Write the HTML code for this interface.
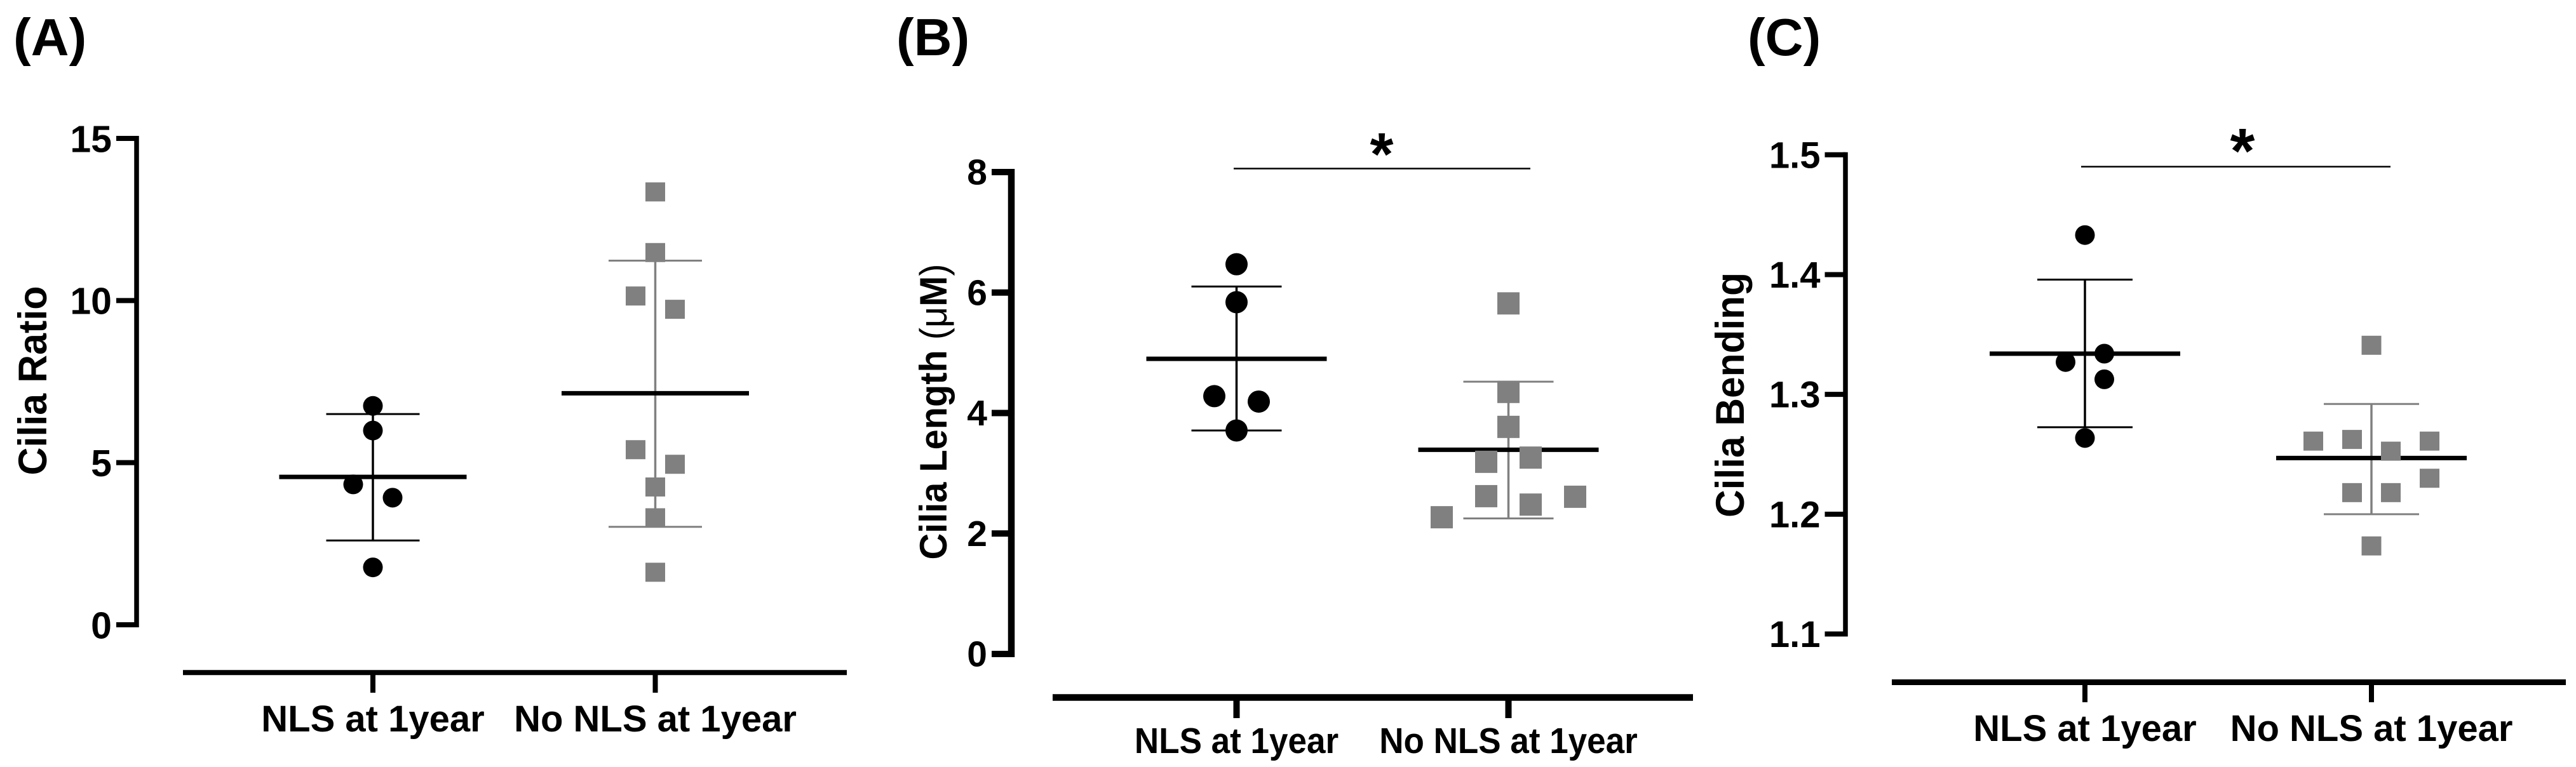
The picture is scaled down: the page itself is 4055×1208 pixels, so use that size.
<!DOCTYPE html>
<html lang="en">
<head>
<meta charset="utf-8">
<title>Cilia measurements by NLS status</title>
<style>
  html, body { margin: 0; padding: 0; background: #fff; }
  svg { display: block; }
  text { font-family: "Liberation Sans", sans-serif; font-weight: bold; fill: #000; }
</style>
</head>
<body>
<svg id="figure" xmlns="http://www.w3.org/2000/svg" width="4055" height="1208" viewBox="0 0 4055 1208">
  <rect x="0" y="0" width="4055" height="1208" fill="#fff"/>

  <text x="21" y="87" font-size="83">(A)</text>
  <text x="1411" y="87" font-size="83">(B)</text>
  <text x="2751" y="87" font-size="83">(C)</text>

  <text transform="translate(73,599.5) rotate(-90)" text-anchor="middle" font-size="63" textLength="298" lengthAdjust="spacingAndGlyphs">Cilia Ratio</text>
  <text transform="translate(1490,648.5) rotate(-90)" text-anchor="middle" font-size="60" textLength="466" lengthAdjust="spacingAndGlyphs">Cilia Length <tspan font-weight="normal">(μ</tspan>M<tspan font-weight="normal">)</tspan></text>
  <text transform="translate(2745,622) rotate(-90)" text-anchor="middle" font-size="63" textLength="386" lengthAdjust="spacingAndGlyphs">Cilia Bending</text>

  <line x1="1942" x2="2409" y1="265.5" y2="265.5" stroke="#000" stroke-width="2.5"/>
  <text x="2175" y="275" text-anchor="middle" font-size="95">*</text>
  <line x1="3276" x2="3763" y1="262.5" y2="262.5" stroke="#000" stroke-width="2.5"/>
  <text x="3530" y="272" text-anchor="middle" font-size="100">*</text>
</svg>

<script>
// Shared categories
const categories = ['NLS at 1year', 'No NLS at 1year'];

// Panel A: Cilia Ratio
const ticksA = [0, 5, 10, 15];
const tickLabelsA = ['0', '5', '10', '15'];
const nlsA = [6.75, 5.99, 4.33, 3.92, 1.77];
const nlsSlotsA = [0, 0, -1, 1, 0];
const noNlsA = [13.35, 11.48, 10.14, 9.73, 5.40, 4.95, 4.25, 3.30, 1.62];
const noNlsSlotsA = [0, 0, -1, 1, -1, 1, 0, 0, 0];
const meansA = [4.56, 7.14];
const upperA = [6.50, 11.23];
const lowerA = [2.60, 3.02];

// Panel B: Cilia Length
const ticksB = [0, 2, 4, 6, 8];
const tickLabelsB = ['0', '2', '4', '6', '8'];
const nlsB = [6.47, 5.84, 4.28, 4.19, 3.71];
const nlsSlotsB = [0, 0, -1, 1, 0];
const noNlsB = [5.82, 4.35, 3.77, 3.19, 3.26, 2.62, 2.48, 2.61, 2.27];
const noNlsSlotsB = [0, 0, 0, -1, 1, -1, 1, 3, -3];
const meansB = [4.90, 3.39];
const upperB = [6.10, 4.52];
const lowerB = [3.71, 2.25];

// Panel C: Cilia Bending
const ticksC = [1.1, 1.2, 1.3, 1.4, 1.5];
const tickLabelsC = ['1.1', '1.2', '1.3', '1.4', '1.5'];
const nlsC = [1.433, 1.334, 1.327, 1.3126, 1.2636];
const nlsSlotsC = [0, 1, -1, 1, 0];
const noNlsC = [1.341, 1.261, 1.2624, 1.261, 1.2526, 1.230, 1.218, 1.218, 1.1735];
const noNlsSlotsC = [0, -3, -1, 3, 1, 3, -1, 1, 0];
const meansC = [1.334, 1.2469];
const upperC = [1.3958, 1.292];
const lowerC = [1.2726, 1.20];

const NS = 'http://www.w3.org/2000/svg';
const GREY = '#808080';
const figure = document.getElementById('figure');

function make(parent, tag, attrs) {
  const el = document.createElementNS(NS, tag);
  for (const k in attrs) el.setAttribute(k, attrs[k]);
  parent.appendChild(el);
  return el;
}

function drawPanel(p) {
  const g = make(figure, 'g', {});
  
  

  const yMin = p.ticks[0];
  const yMax = p.ticks[p.ticks.length - 1];
  const yScale = v => p.y0 + (v - yMin) * (p.yTop - p.y0) / (yMax - yMin);
  const xScale = i => p.xCats[0] + i * (p.xCats[1] - p.xCats[0]);

  // y axis
  const yAxis = make(g, 'line', { x1: p.axisX, x2: p.axisX, y1: p.yTop - p.tickW / 2, y2: p.y0 + p.tickW / 2, stroke: '#000', 'stroke-width': p.axisW });
  
  

  p.ticks.forEach((t, i) => {
    const y = yScale(t);
    const tick = make(g, 'line', { x1: p.tickLeft, x2: p.axisX, y1: y, y2: y, stroke: '#000', 'stroke-width': p.tickW });
    
    
    const label = make(g, 'text', { x: p.tickLeft - 7, y: y + p.tickFont * 0.345 + p.tickDy, 'text-anchor': 'end', 'font-size': p.tickFont });
    label.textContent = p.labels[i];
    
    
  });

  // x axis
  const xAxis = make(g, 'line', { x1: p.xAxisFrom, x2: p.xAxisTo, y1: p.xAxisY, y2: p.xAxisY, stroke: '#000', 'stroke-width': p.xAxisW });
  
  

  categories.forEach((c, i) => {
    const x = xScale(i);
    const tick = make(g, 'line', { x1: x, x2: x, y1: p.xAxisY, y2: p.xTickEnd, stroke: '#000', 'stroke-width': p.tickW });
    
    
    const label = make(g, 'text', { x: x, y: p.xLabelY, 'text-anchor': 'middle', 'font-size': p.xFont });
    label.textContent = c;
    
    
    if (p.xStretch !== 1) {
      label.setAttribute('textLength', label.getComputedTextLength() * p.xStretch);
      label.setAttribute('lengthAdjust', 'spacingAndGlyphs');
    }
  });

  // summary statistics: SD whiskers, caps, mean line
  categories.forEach((c, i) => {
    const x = xScale(i);
    const color = i === 0 ? '#000' : GREY;
    const yU = yScale(p.upper[i]);
    const yL = yScale(p.lower[i]);
    const yM = yScale(p.means[i]);

    const whisker = make(g, 'line', { x1: x, x2: x, y1: yU, y2: yL, stroke: color, 'stroke-width': 3.5 });
    
    

    const capU = make(g, 'line', { x1: x - p.capHalf, x2: x + p.capHalf, y1: yU, y2: yU, stroke: color, 'stroke-width': 3 });
    
    

    const capL = make(g, 'line', { x1: x - p.capHalf, x2: x + p.capHalf, y1: yL, y2: yL, stroke: color, 'stroke-width': 3 });
    
    

    const mean = make(g, 'line', { x1: x - p.meanHalf, x2: x + p.meanHalf, y1: yM, y2: yM, stroke: '#000', 'stroke-width': 7 });
    
    
  });

  // points
  p.nls.forEach((v, i) => {
    const pt = make(g, 'circle', { cx: xScale(0) + p.nlsSlots[i] * p.slot, cy: yScale(v), r: p.r, fill: '#000' });
    
    
  });
  p.noNls.forEach((v, i) => {
    const pt = make(g, 'rect', { x: xScale(1) + p.noNlsSlots[i] * p.slot - p.sqW / 2, y: yScale(v) - p.sqH / 2, width: p.sqW, height: p.sqH, fill: GREY });
    
    
  });
}

drawPanel({
  id: 'a', ticks: ticksA, labels: tickLabelsA, nls: nlsA, nlsSlots: nlsSlotsA, noNls: noNlsA, noNlsSlots: noNlsSlotsA,
  means: meansA, upper: upperA, lower: lowerA,
  y0: 984, yTop: 218, axisX: 215, tickLeft: 183, axisW: 7.5, tickW: 8, tickFont: 59, tickDy: 1,
  xCats: [587, 1031.5], xAxisFrom: 288, xAxisTo: 1333, xAxisY: 1059.3, xAxisW: 8, xTickEnd: 1091,
  xLabelY: 1152, xFont: 58, xStretch: 1, capHalf: 73.5, meanHalf: 147.5, slot: 31, r: 15.5, sqW: 31, sqH: 30
});
drawPanel({
  id: 'b', ticks: ticksB, labels: tickLabelsB, nls: nlsB, nlsSlots: nlsSlotsB, noNls: noNlsB, noNlsSlots: noNlsSlotsB,
  means: meansB, upper: upperB, lower: lowerB,
  y0: 1030, yTop: 271, axisX: 1592, tickLeft: 1561, axisW: 10.5, tickW: 10, tickFont: 57, tickDy: 0,
  xCats: [1946.5, 2374.5], xAxisFrom: 1657, xAxisTo: 2665, xAxisY: 1098.5, xAxisW: 10.5, xTickEnd: 1131,
  xLabelY: 1186, xFont: 57, xStretch: 0.93, capHalf: 71, meanHalf: 142, slot: 35, r: 17.5, sqW: 35, sqH: 35
});
drawPanel({
  id: 'c', ticks: ticksC, labels: tickLabelsC, nls: nlsC, nlsSlots: nlsSlotsC, noNls: noNlsC, noNlsSlots: noNlsSlotsC,
  means: meansC, upper: upperC, lower: lowerC,
  y0: 998.5, yTop: 243.8, axisX: 2905, tickLeft: 2872.5, axisW: 7.5, tickW: 8, tickFont: 58, tickDy: 0.5,
  xCats: [3282, 3733], xAxisFrom: 2978, xAxisTo: 4039, xAxisY: 1074.5, xAxisW: 9, xTickEnd: 1106,
  xLabelY: 1167, xFont: 58, xStretch: 1, capHalf: 75, meanHalf: 150, slot: 30.5, r: 15.5, sqW: 31, sqH: 30
});
</script>
</body>
</html>
